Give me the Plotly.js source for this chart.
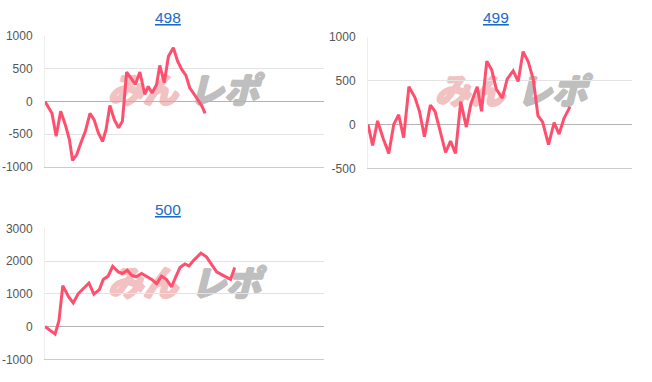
<!DOCTYPE html>
<html>
<head>
<meta charset="utf-8">
<script src="https://cdn.plot.ly/plotly-3.0.1.min.js"></script>
<style>html,body{margin:0;padding:0;background:#fff;}#chart{width:652px;height:382px;}</style>
</head>
<body>
<div id="chart"></div>
<script>
// ---- data (x = games played, y = coin difference) ----
const titles = ["498", "499", "500"];

const games498 = [0,100,200,320,450,580,700,790,910,1030,1160,1290,1410,1530,1650,1750,1860,1990,2110,2220,2340,2460,2590,2720,2860,2960,3070,3200,3290,3420,3540,3680,3800,3920,4040,4150,4260,4380,4500,4590];
const diff498  = [0,-80,-180,-530,-150,-350,-580,-900,-810,-630,-450,-180,-280,-480,-610,-430,-60,-280,-400,-300,450,360,260,450,110,230,130,260,550,290,690,820,620,490,400,210,130,30,-70,-180];

const games499 = [0,140,290,460,630,780,930,1080,1240,1420,1560,1710,1890,2030,2170,2350,2500,2650,2810,2980,3120,3310,3440,3600,3750,3890,4070,4220,4400,4550,4700,4860,5010,5150,5290,5470,5640,5790,5940,6120];
const diff499  = [0,-240,40,-160,-330,0,110,-150,430,310,150,-140,220,150,-50,-320,-190,-330,260,-30,240,430,150,720,620,400,300,520,610,490,830,710,510,100,30,-230,20,-110,70,200];

const games500 = [0,140,290,400,510,670,810,950,1100,1260,1400,1560,1670,1810,1940,2100,2220,2360,2480,2610,2770,2890,3060,3200,3340,3480,3630,3750,3870,4010,4130,4270,4470,4630,4770,4920,5090,5250,5320,5440];
const diff500  = [0,-100,-230,180,1250,920,720,1000,1160,1330,990,1130,1440,1540,1840,1670,1620,1720,1570,1520,1620,1540,1440,1310,1540,1440,1210,1520,1800,1910,1850,2030,2240,2130,1910,1670,1570,1470,1440,1800];

const tick498 = [-1000, -500, 0, 500, 1000];
const tick499 = [-500, 0, 500, 1000];
const tick500 = [-1000, 0, 1000, 2000, 3000];
const watermarkText = ["みん", "レポ"];

// ---- styling ----
const W = 652, H = 382;
const lineColor = "#ff4f6e";
const font = "Liberation Sans, Arial, sans-serif";
const xRange = [0, 8000];
const wmColors = ["#f2c2c2", "#bfbfbf"];

function xd(a, b) { return [a / W, b / W]; }
function yd(top, bottom) { return [1 - bottom / H, 1 - top / H]; }

const panels = [
  {games: games498, diff: diff498, ticks: tick498, xdom: xd(45, 324), ydom: yd(36, 167), wm: [[143, 93], [224, 93]], title: [168, 17]},
  {games: games499, diff: diff499, ticks: tick499, xdom: xd(368, 632), ydom: yd(36.7, 168.3), wm: [[470, 94], [552, 94]], title: [496, 17]},
  {games: games500, diff: diff500, ticks: tick500, xdom: xd(45, 324), ydom: yd(228.3, 359.3), wm: [[143, 286], [226, 286]], title: [168, 209]}
];

const data = [];
const layout = {
  width: W, height: H,
  margin: {l: 0, r: 0, t: 0, b: 0},
  paper_bgcolor: "#fff", plot_bgcolor: "rgba(0,0,0,0)",
  showlegend: false,
  font: {family: font, size: 12, color: "#555"},
  annotations: [],
  shapes: []
};

panels.forEach((p, i) => {
  const sfx = i === 0 ? "" : String(i + 1);
  const yr = [p.ticks[0], p.ticks[p.ticks.length - 1]];
  // watermark (below grid and traces)
  p.wm.forEach((c, k) => {
    const col = wmColors[k];
    layout.shapes.push({
      type: "rect", xref: "paper", yref: "paper", layer: "below",
      x0: (c[0] - 40) / W, x1: (c[0] + 40) / W,
      y0: 1 - (c[1] + 16) / H, y1: 1 - (c[1] - 16) / H,
      line: {width: 0}, fillcolor: "rgba(0,0,0,0)",
      label: {
        text: watermarkText[k], textposition: "middle center",
        font: {family: "Noto Sans CJK JP", size: 35, weight: 900, style: "italic", color: col,
          shadow: "1px 0 0 " + col + ", -1px 0 0 " + col + ", 0 1px 0 " + col + ", 0 -1px 0 " + col}
      }
    });
  });
  data.push({
    type: "scatter", mode: "lines",
    x: p.games, y: p.diff,
    line: {color: lineColor, width: 3},
    xaxis: "x" + sfx, yaxis: "y" + sfx
  });
  layout["xaxis" + sfx] = {
    domain: p.xdom, range: xRange, anchor: "y" + sfx,
    showgrid: false, zeroline: false, showticklabels: false, ticks: "",
    showline: true, linecolor: "#cccccc", linewidth: 1, fixedrange: true
  };
  layout["yaxis" + sfx] = {
    domain: p.ydom, range: yr, anchor: "x" + sfx,
    tickmode: "array", tickvals: p.ticks, ticktext: p.ticks.map(String),
    showgrid: true, gridcolor: "#e3e3e3", gridwidth: 1,
    zeroline: true, zerolinecolor: "#b3b3b3", zerolinewidth: 1,
    showline: true, linecolor: "#eeeeee", linewidth: 1,
    ticks: "outside", ticklen: 9, tickcolor: "rgba(0,0,0,0)",
    tickfont: {family: font, size: 12, color: "#555"}, fixedrange: true
  };
  layout.annotations.push({
    text: "<u>" + titles[i] + "</u>",
    xref: "paper", yref: "paper",
    x: p.title[0] / W, y: 1 - p.title[1] / H,
    xanchor: "center", yanchor: "middle", showarrow: false,
    font: {family: font, size: 15.5, color: "#1a6ac9"}
  });
});

Plotly.newPlot("chart", data, layout, {displayModeBar: false, staticPlot: true});
</script>
</body>
</html>
